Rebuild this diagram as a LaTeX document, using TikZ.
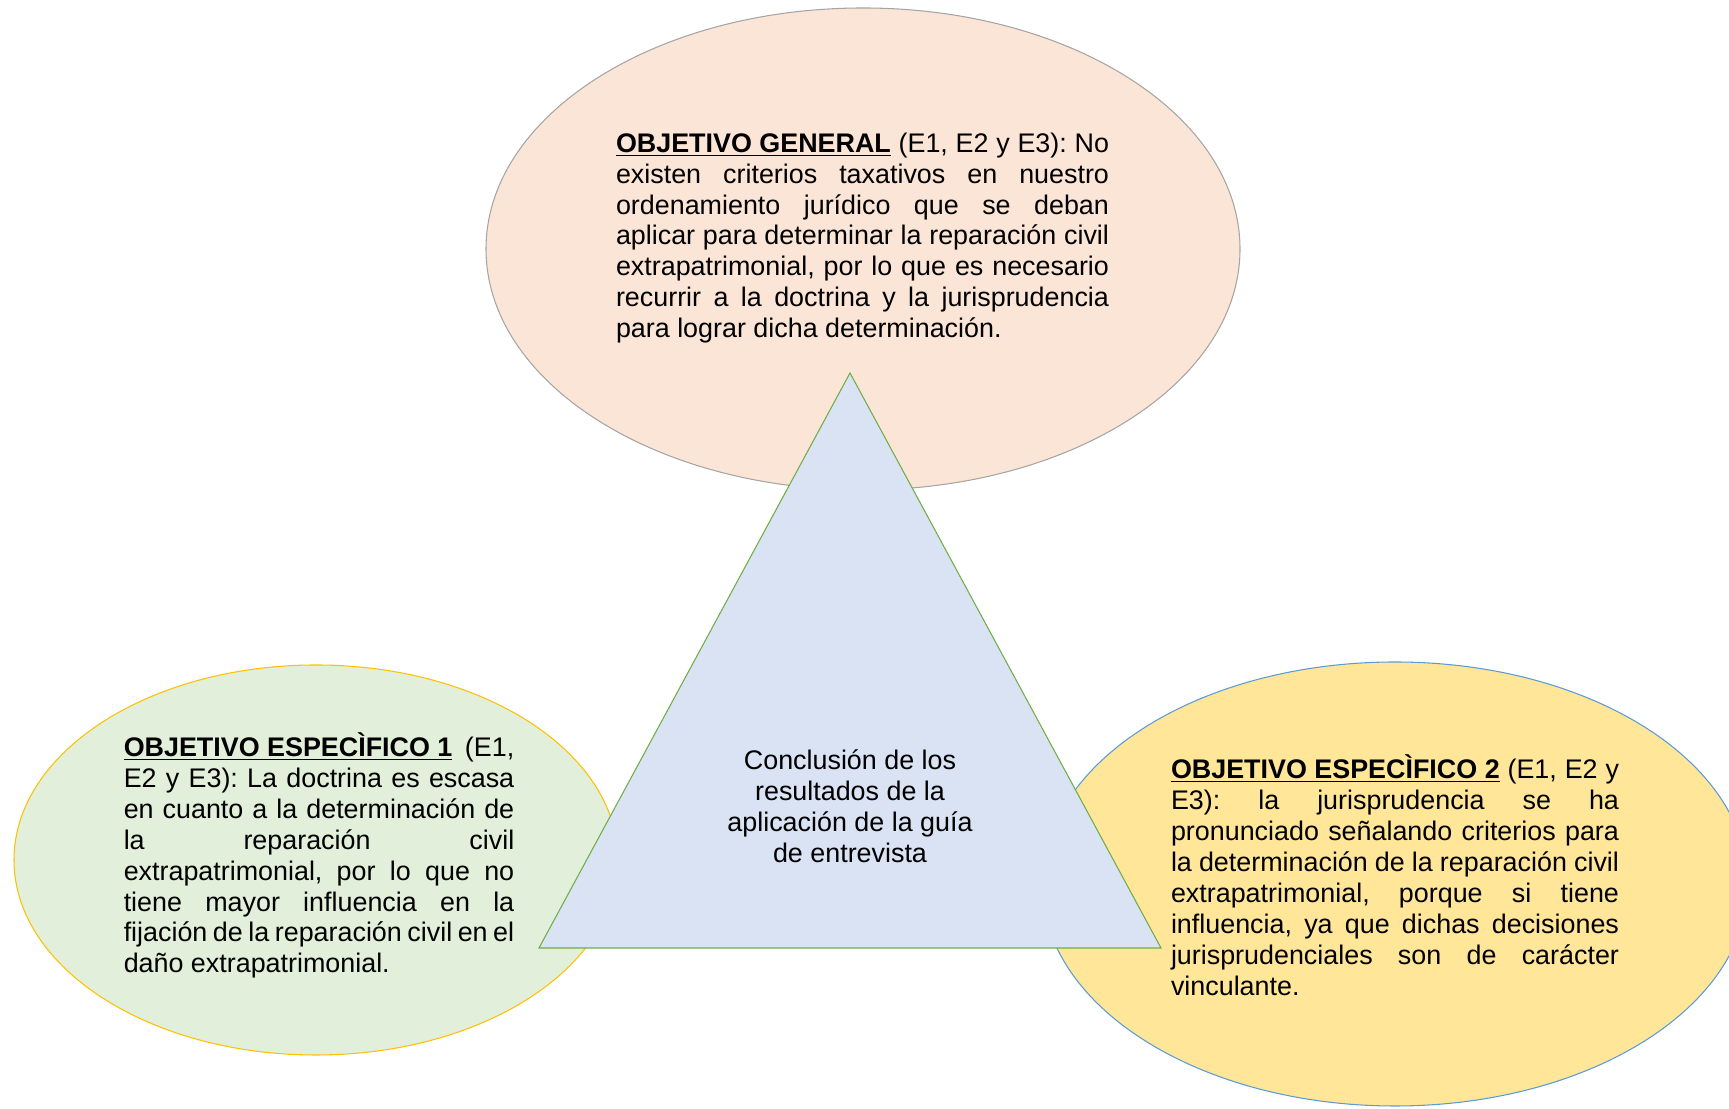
\documentclass[tikz,border=0pt]{standalone}
\usepackage{fontspec}
\setmainfont{Liberation Sans}
\frenchspacing
\usetikzlibrary{shapes.geometric}
\definecolor{genfill}{HTML}{FBE5D6}
\definecolor{genline}{HTML}{A5A5A5}
\definecolor{unofill}{HTML}{E2EFDA}
\definecolor{unoline}{HTML}{FFC000}
\definecolor{dosfill}{HTML}{FFE699}
\definecolor{dosline}{HTML}{5B9BD5}
\definecolor{trifill}{HTML}{DAE3F3}
\definecolor{triline}{HTML}{70AD47}
\begin{document}
\begin{tikzpicture}[line width=0.6pt,
  obj/.style={ellipse, inner sep=0pt},
  txt/.style={inner sep=0pt, align=justify, font=\fontsize{15.3}{17.6}\selectfont}]
\useasboundingbox (0,0) rectangle (34.58,22.18);
\node[obj, draw=genline, fill=genfill, minimum width=15.08cm, minimum height=9.64cm] (gen) at (17.26,17.20) {};
\node[obj, draw=unoline, fill=unofill, minimum width=12.08cm, minimum height=7.80cm] (uno) at (6.32,4.98) {};
\node[obj, draw=dosline, fill=dosfill, minimum width=14.12cm, minimum height=8.88cm] (dos) at (27.90,4.50) {};
\coordinate (apex) at (17.00,14.72);
\coordinate (izq) at (10.78,3.22);
\coordinate (der) at (23.22,3.22);
\draw[triline, fill=trifill] (apex) -- (der) -- (izq) -- cycle;
\node[txt, text width=9.86cm] (gentxt) at (17.25,17.42) {\underline{\textbf{OBJETIVO GENERAL}} (E1, E2 y E3): No\linebreak
existen criterios taxativos en nuestro\linebreak
ordenamiento jurídico que se deban\linebreak
aplicar para determinar la reparación civil\linebreak
extrapatrimonial, por lo que es necesario\linebreak
recurrir a la doctrina y la jurisprudencia\linebreak
para lograr dicha determinación.};
\node[txt, text width=7.81cm] (unotxt) at (6.38,5.07) {\underline{\textbf{OBJETIVO ESPECÌFICO 1}} (E1,\linebreak
E2 y E3): La doctrina es escasa\linebreak
en cuanto a la determinación de\linebreak
la reparación civil\linebreak
extrapatrimonial, por lo que no\linebreak
tiene mayor influencia en la\linebreak
fijación de la reparación civil en el\linebreak
daño extrapatrimonial.};
\node[txt, text width=8.96cm] (dostxt) at (27.90,4.68) {\underline{\textbf{OBJETIVO ESPECÌFICO 2}} (E1, E2 y\linebreak
E3): la jurisprudencia se ha\linebreak
pronunciado señalando criterios para\linebreak
la determinación de la reparación civil\linebreak
extrapatrimonial, porque si tiene\linebreak
influencia, ya que dichas decisiones\linebreak
jurisprudenciales son de carácter\linebreak
vinculante.};
\node[txt, align=center] (concl) at (17.00,6.06) {Conclusión de los\\ resultados de la\\ aplicación de la guía\\ de entrevista};
\end{tikzpicture}
\end{document}
